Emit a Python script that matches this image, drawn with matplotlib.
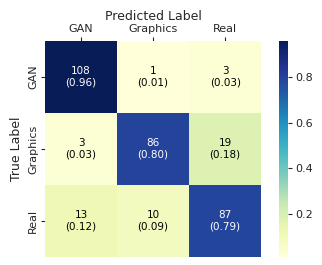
import numpy as np
import matplotlib
matplotlib.use("Agg")
import matplotlib.pyplot as plt
import seaborn as sns

classes = ["GAN", "Graphics", "Real"]
counts = np.array([[108, 1, 3],
                   [3, 86, 19],
                   [13, 10, 87]])
ratios = np.array([[0.96, 0.01, 0.03],
                   [0.03, 0.80, 0.18],
                   [0.12, 0.09, 0.79]])

sns.set_theme(style="ticks")
plt.rcParams['font.family'] = ['DejaVu Sans']

labels = np.array([[f"{c}\n({r:.2f})" for c, r in zip(rc, rr)]
                   for rc, rr in zip(counts, ratios)])

fig = plt.figure(figsize=(3.22, 2.65), dpi=100)
ax = fig.add_axes([0.14, 0.03, 0.671, 0.815])
cax = fig.add_axes([0.866, 0.03, 0.028, 0.815])

sns.heatmap(ratios, annot=labels, fmt="", cmap="YlGnBu", ax=ax, cbar_ax=cax,
            xticklabels=classes, yticklabels=classes,
            annot_kws={"fontsize": 7.5})

# dark text on light cells in pure black
for t in ax.texts:
    if t.get_color() not in ("w", "white", "#ffffff"):
        t.set_color("black")

ax.xaxis.tick_top()
ax.xaxis.set_label_position("top")
ax.set_xlabel("Predicted Label", fontsize=9, labelpad=3)
ax.set_ylabel("True Label", fontsize=9, labelpad=4)
ax.tick_params(axis="both", labelsize=8, length=3, width=0.8, pad=2)
ax.tick_params(axis="y", rotation=90)
for t in ax.get_yticklabels():
    t.set_va("center")
cax.tick_params(labelsize=8, length=3, width=0.8, pad=2)

fig.savefig("out.png", dpi=100)
